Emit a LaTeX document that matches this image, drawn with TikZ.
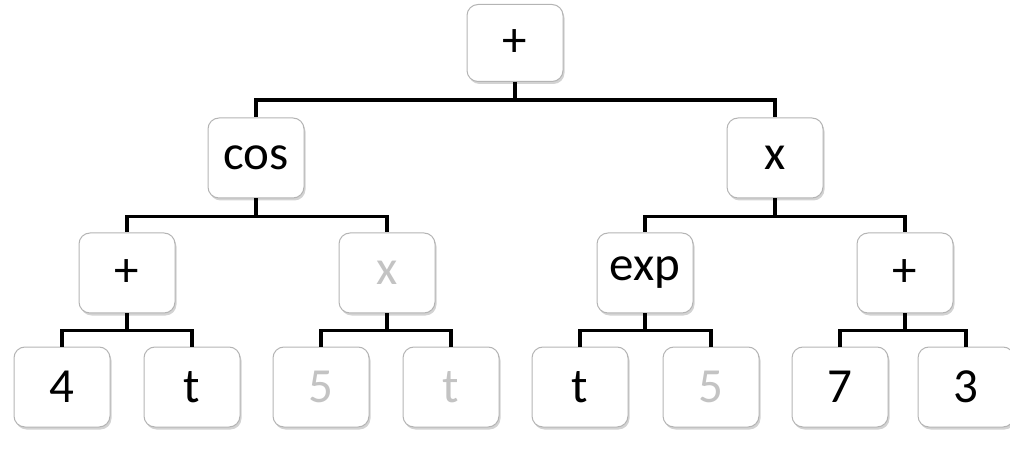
\documentclass[tikz,border=0pt]{standalone}
\usepackage{fontspec}
\setmainfont{Carlito}
\usetikzlibrary{shadows}
\definecolor{boxborder}{RGB}{180,180,180}
\definecolor{faded}{RGB}{195,195,195}
\tikzset{
  tnode/.style={draw=boxborder, line width=1pt, fill=white, rounded corners=11pt,
    minimum width=96pt, minimum height=80pt, inner sep=0pt,
    font=\fontsize{49}{49}\selectfont,
    drop shadow={shadow xshift=1.5pt, shadow yshift=-2.5pt, opacity=0.35, fill=gray}},
  fadedtxt/.style={text=faded},
  conn/.style={draw=black, line width=3.5pt, line join=miter}
}
\begin{document}
\begin{tikzpicture}[x=1pt,y=-1pt]
\useasboundingbox (0,0) rectangle (1010,449);
\node[tnode, minimum height=77pt] (root) at (515,43) {+};
\node[tnode] (cos) at (256,158) {cos};
\node[tnode] (mul) at (775,158) {x};
\node[tnode] (p1) at (127,273) {+};
\node[tnode, fadedtxt] (x1) at (387,273) {x};
\node[tnode] (exp) at (645,273) {exp};
\node[tnode] (p2) at (905,273) {+};
\node[tnode] (l1) at (62,387) {4};
\node[tnode] (l2) at (192,387) {t};
\node[tnode, fadedtxt] (l3) at (321,387) {5};
\node[tnode, fadedtxt] (l4) at (451,387) {t};
\node[tnode] (l5) at (580,387) {t};
\node[tnode, fadedtxt] (l6) at (711,387) {5};
\node[tnode] (l7) at (840,387) {7};
\node[tnode] (l8) at (966,387) {3};
\draw[conn] (root.south) -- ++(0,18) -| (cos.north);
\draw[conn] (root.south) -- ++(0,18) -| (mul.north);
\draw[conn] (cos.south) -- ++(0,18) -| (p1.north);
\draw[conn] (cos.south) -- ++(0,18) -| (x1.north);
\draw[conn] (mul.south) -- ++(0,18) -| (exp.north);
\draw[conn] (mul.south) -- ++(0,18) -| (p2.north);
\draw[conn] (p1.south) -- ++(0,17) -| (l1.north);
\draw[conn] (p1.south) -- ++(0,17) -| (l2.north);
\draw[conn] (x1.south) -- ++(0,17) -| (l3.north);
\draw[conn] (x1.south) -- ++(0,17) -| (l4.north);
\draw[conn] (exp.south) -- ++(0,17) -| (l5.north);
\draw[conn] (exp.south) -- ++(0,17) -| (l6.north);
\draw[conn] (p2.south) -- ++(0,17) -| (l7.north);
\draw[conn] (p2.south) -- ++(0,17) -| (l8.north);
\end{tikzpicture}
\end{document}
